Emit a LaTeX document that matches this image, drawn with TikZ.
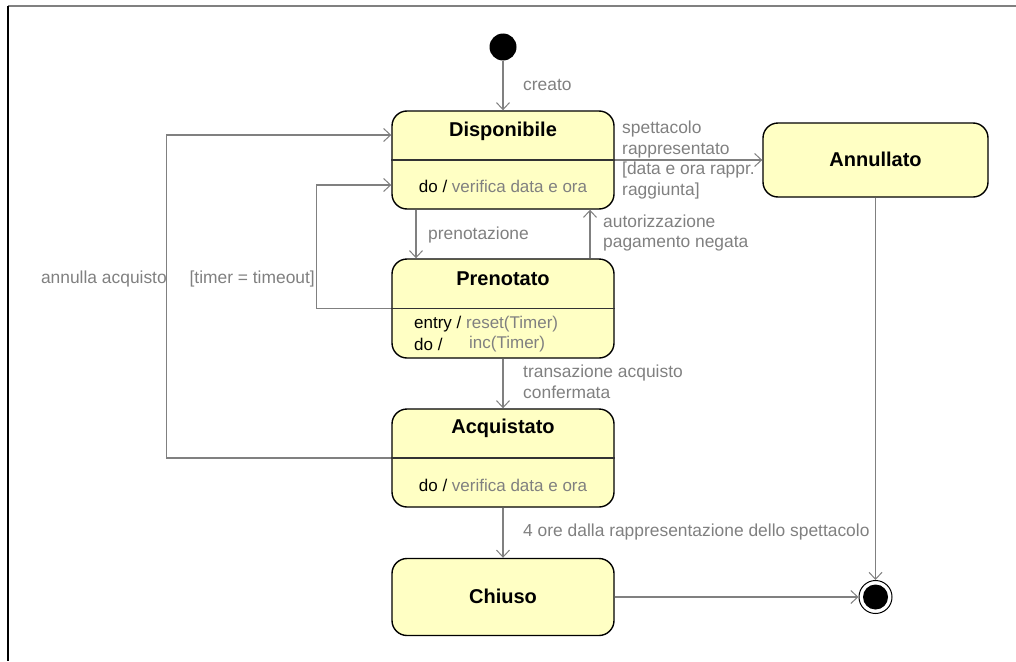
\documentclass[tikz,border=0pt]{standalone}
\usepackage{fontspec}
\setmainfont{Liberation Sans}
\usetikzlibrary{arrows.meta,calc}
\definecolor{statefill}{RGB}{255,255,196}
\definecolor{lbl}{RGB}{128,128,128}
\begin{document}
\begin{tikzpicture}[x=1pt,y=-1pt,
  state/.style={draw=black, line width=1.4pt, fill=statefill, rounded corners=15pt,
    minimum width=222pt, inner sep=0pt},
  sep/.style={draw=black!80, line width=1.4pt},
  conn/.style={draw=lbl, line width=1.1pt, -{Straight Barb[length=7pt,width=13pt,line width=1pt]}},
  title/.style={font=\fontsize{20}{24}\selectfont\bfseries, inner sep=0pt},
  body/.style={font=\fontsize{17}{20.5}\selectfont, inner sep=0pt},
  lab/.style={font=\fontsize{17.4}{20.7}\selectfont, text=lbl, inner sep=0pt, align=left},
]
\useasboundingbox (0,0) rectangle (1016,661);

% page frame
\draw[lbl, line width=1.5pt] (8,6) -- (1016,6);
\draw[black, line width=1.5pt] (8,6) -- (8,661);

% states
\node[state, minimum height=98pt] (disp) at (503,160) {};
\node[state, minimum height=99pt] (pren) at (503,308.5) {};
\node[state, minimum height=98pt] (acq)  at (503,458) {};
\node[state, minimum height=77pt] (chi)  at (503,597) {};
\node[state, minimum width=225pt, minimum height=74pt] (ann) at (875.5,160) {};

% compartments
\draw[sep] (disp.west) -- (disp.east);
\draw[sep] (pren.west) -- (pren.east);
\draw[sep] (acq.west) -- (acq.east);

% state titles and activities
\node[title] (tdisp) at (503,131) {Disponibile};
\node[body]  (adisp) at (503,186) {do / \textcolor{lbl}{verifica data e ora}};
\node[title] (tpren) at (503,279) {Prenotato};
\node[body, anchor=west] (apren1) at (414,324) {entry / \textcolor{lbl}{reset(Timer)}};
\node[body, anchor=west] (apren2) at (414,344) {do /};
\node[body, anchor=west, text=lbl] (apren3) at (469,344) {inc(Timer)};
\node[title] (tacq) at (503,428) {Acquistato};
\node[body]  (aacq) at (503,485) {do / \textcolor{lbl}{verifica data e ora}};
\node[title] (tchi) at (503,596) {Chiuso};
\node[title] (tann) at (875.5,159) {Annullato};

% pseudo states
\node[circle, fill=black, minimum size=27pt, inner sep=0pt] (init) at (503,47) {};
\node[circle, draw=black, line width=1pt, fill=white, minimum size=33pt, inner sep=0pt] (fin) at (875.5,597) {};
\fill[black] (fin.center) circle (12.5pt);

% transitions
\draw[conn] (init) -- (disp.north);
\draw[conn] (disp.east) -- (ann.west);
\draw[conn] ($(disp.south)+(-87,0)$) -- ($(pren.north)+(-87,0)$);
\draw[conn] ($(pren.north)+(87,0)$) -- ($(disp.south)+(87,0)$);
\draw[conn] (pren.west) -- ++(-75,0) |- ($(disp.west)+(0,25)$);
\draw[conn] (acq.west) -- ++(-225,0) |- ($(disp.west)+(0,-25)$);
\draw[conn] (pren.south) -- (acq.north);
\draw[conn] (acq.south) -- (chi.north);
\draw[conn] (chi.east) -- (fin.west);
\draw[conn] (ann.south) -- (fin.north);

% transition labels
\node[lab, anchor=west] (lcreato) at (523,85) {creato};
\node[lab, anchor=west] (lspett) at (622,160) {spettacolo\\rappresentato\\{[data e ora rappr.}\\raggiunta]};
\node[lab, anchor=west] (lpren) at (428,235) {prenotazione};
\node[lab, anchor=west] (laut) at (603,233) {autorizzazione\\pagamento negata};
\node[lab, anchor=east] (ltimer) at (315,279) {[timer = timeout]};
\node[lab, anchor=east] (lannulla) at (167,279) {annulla acquisto};
\node[lab, anchor=west] (ltrans) at (523,382) {transazione acquisto\\confermata};
\node[lab, anchor=west] (lore) at (523,532) {4 ore dalla rappresentazione dello spettacolo};
\end{tikzpicture}
\end{document}
